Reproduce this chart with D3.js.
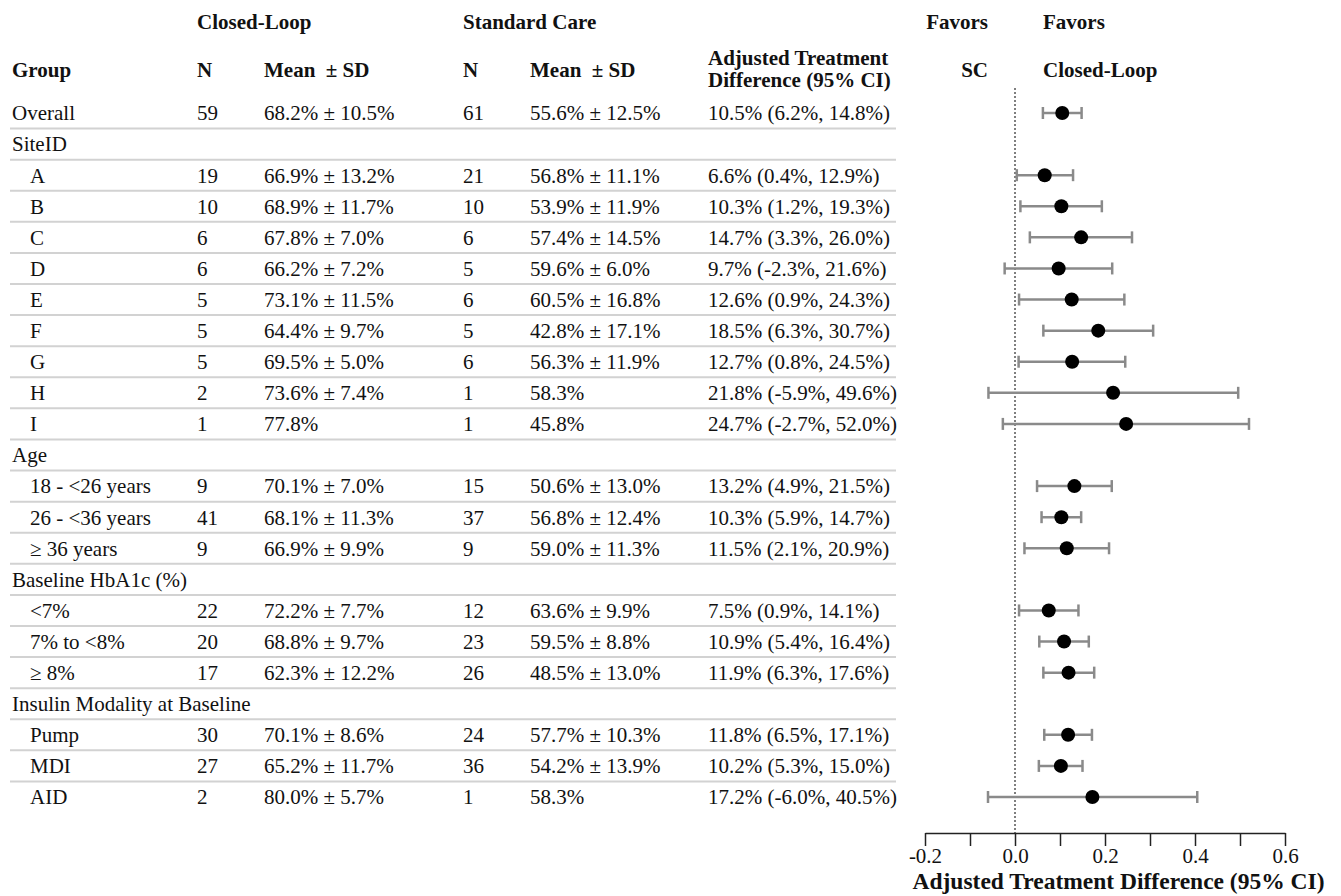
<!DOCTYPE html>
<html>
<head>
<meta charset="utf-8">
<script src="https://cdn.jsdelivr.net/npm/d3@7"></script>
<style>
  body { margin: 0; background: #fff; }
  svg text { font-family: "Liberation Serif", "Times New Roman", serif; fill: #111; white-space: pre; }
  .hdr { font-weight: bold; }
</style>
</head>
<body>
<div id="chart"></div>
<script>
// rows of the table, top to bottom
var groups = ["Overall", "SiteID", "A", "B", "C", "D", "E", "F", "G", "H", "I",
  "Age", "18 - <26 years", "26 - <36 years", "\u2265 36 years",
  "Baseline HbA1c (%)", "<7%", "7% to <8%", "\u2265 8%",
  "Insulin Modality at Baseline", "Pump", "MDI", "AID"];
var indent = [0, 0, 1, 1, 1, 1, 1, 1, 1, 1, 1, 0, 1, 1, 1, 0, 1, 1, 1, 0, 1, 1, 1];

var clN = ["59", "", "19", "10", "6", "6", "5", "5", "5", "2", "1", "", "9", "41", "9", "", "22", "20", "17", "", "30", "27", "2"];
var clMean = ["68.2% \u00b1 10.5%", "", "66.9% \u00b1 13.2%", "68.9% \u00b1 11.7%", "67.8% \u00b1 7.0%",
  "66.2% \u00b1 7.2%", "73.1% \u00b1 11.5%", "64.4% \u00b1 9.7%", "69.5% \u00b1 5.0%", "73.6% \u00b1 7.4%",
  "77.8%", "", "70.1% \u00b1 7.0%", "68.1% \u00b1 11.3%", "66.9% \u00b1 9.9%", "",
  "72.2% \u00b1 7.7%", "68.8% \u00b1 9.7%", "62.3% \u00b1 12.2%", "",
  "70.1% \u00b1 8.6%", "65.2% \u00b1 11.7%", "80.0% \u00b1 5.7%"];
var scN = ["61", "", "21", "10", "6", "5", "6", "5", "6", "1", "1", "", "15", "37", "9", "", "12", "23", "26", "", "24", "36", "1"];
var scMean = ["55.6% \u00b1 12.5%", "", "56.8% \u00b1 11.1%", "53.9% \u00b1 11.9%", "57.4% \u00b1 14.5%",
  "59.6% \u00b1 6.0%", "60.5% \u00b1 16.8%", "42.8% \u00b1 17.1%", "56.3% \u00b1 11.9%", "58.3%",
  "45.8%", "", "50.6% \u00b1 13.0%", "56.8% \u00b1 12.4%", "59.0% \u00b1 11.3%", "",
  "63.6% \u00b1 9.9%", "59.5% \u00b1 8.8%", "48.5% \u00b1 13.0%", "",
  "57.7% \u00b1 10.3%", "54.2% \u00b1 13.9%", "58.3%"];

// adjusted treatment difference, in %
var est = [10.5, null, 6.6, 10.3, 14.7, 9.7, 12.6, 18.5, 12.7, 21.8, 24.7, null, 13.2, 10.3, 11.5, null, 7.5, 10.9, 11.9, null, 11.8, 10.2, 17.2];
var lo  = [6.2, null, 0.4, 1.2, 3.3, -2.3, 0.9, 6.3, 0.8, -5.9, -2.7, null, 4.9, 5.9, 2.1, null, 0.9, 5.4, 6.3, null, 6.5, 5.3, -6.0];
var hi  = [14.8, null, 12.9, 19.3, 26.0, 21.6, 24.3, 30.7, 24.5, 49.6, 52.0, null, 21.5, 14.7, 20.9, null, 14.1, 16.4, 17.6, null, 17.1, 15.0, 40.5];

var axisTicks = [-0.2, -0.1, 0.0, 0.1, 0.2, 0.3, 0.4, 0.5, 0.6];

var W = 1341, H = 896;
var svg = d3.select("#chart").append("svg")
    .attr("width", W)
    .attr("height", H);

var rows = d3.range(groups.length);
var y = d3.scalePoint().domain(rows).range([113, 797]);
var x = d3.scaleLinear().domain([-0.2, 0.6]).range([925, 1285]);
var loc = d3.formatLocale({ decimal: ".", thousands: ",", grouping: [3], currency: ["", ""], minus: "-" });
var pct = loc.format(".1f");

var colX = { group: 12, sub: 30, clN: 197, clMean: 264, scN: 463, scMean: 530, diff: 708 };
var fs = 21;

// column headers
var hdr = [
  ["Closed-Loop", colX.clN, 29, "start"],
  ["Standard Care", colX.scN, 29, "start"],
  ["Group", colX.group, 77, "start"],
  ["N", colX.clN, 77, "start"],
  ["Mean  \u00b1 SD", colX.clMean, 77, "start"],
  ["N", colX.scN, 77, "start"],
  ["Mean  \u00b1 SD", colX.scMean, 77, "start"],
  ["Adjusted Treatment", colX.diff, 65, "start"],
  ["Difference (95% CI)", colX.diff, 87, "start"],
  ["Favors", 988, 29, "end"],
  ["SC", 988, 77, "end"],
  ["Favors", 1043, 29, "start"],
  ["Closed-Loop", 1043, 77, "start"]
];
svg.selectAll("text.hdr").data(hdr).enter().append("text")
    .attr("class", "hdr")
    .attr("x", function(d) { return d[1]; })
    .attr("y", function(d) { return d[2]; })
    .attr("text-anchor", function(d) { return d[3]; })
    .style("font-size", fs + "px")
    .text(function(d) { return d[0]; });

// separators under each row except the last
var step = y.step();
svg.append("g").selectAll("line")
    .data(rows.slice(0, -1))
    .enter().append("line")
    .attr("x1", 10).attr("x2", 896)
    .attr("y1", function(i) { return y(i) + step / 2; })
    .attr("y2", function(i) { return y(i) + step / 2; })
    .attr("stroke", "#d2d2d2")
    .attr("stroke-width", 2);

// table body
var body = svg.append("g").style("font-size", fs + "px");
function col(vals, xpos) {
  body.append("g").selectAll("text")
    .data(rows)
    .enter().append("text")
    .attr("x", typeof xpos === "function" ? xpos : function() { return xpos; })
    .attr("y", function(i) { return y(i); })
    .attr("dy", "0.35em")
    .text(function(i) { return vals[i]; });
}
col(groups, function(i) { return indent[i] ? colX.sub : colX.group; });
col(clN, colX.clN);
col(clMean, colX.clMean);
col(scN, colX.scN);
col(scMean, colX.scMean);
var diffText = rows.map(function(i) {
  if (est[i] === null) return "";
  return pct(est[i]) + "% (" + pct(lo[i]) + "%, " + pct(hi[i]) + "%)";
});
col(diffText, colX.diff);

// forest plot
var plot = svg.append("g");
var axisY = 833;

plot.append("line")
    .attr("x1", x(0)).attr("x2", x(0))
    .attr("y1", 88).attr("y2", axisY)
    .attr("stroke", "#555")
    .attr("stroke-width", 1.5)
    .attr("stroke-dasharray", "2,2");

var pts = rows.filter(function(i) { return est[i] !== null; });
var bars = plot.selectAll("g.ci").data(pts).enter().append("g").attr("class", "ci");
bars.append("line")
    .attr("x1", function(i) { return x(lo[i] / 100); })
    .attr("x2", function(i) { return x(hi[i] / 100); })
    .attr("y1", function(i) { return y(i); })
    .attr("y2", function(i) { return y(i); })
    .attr("stroke", "#8a8a8a").attr("stroke-width", 2.5);
[lo, hi].forEach(function(arr) {
  bars.append("line")
      .attr("x1", function(i) { return x(arr[i] / 100); })
      .attr("x2", function(i) { return x(arr[i] / 100); })
      .attr("y1", function(i) { return y(i) - 6; })
      .attr("y2", function(i) { return y(i) + 6; })
      .attr("stroke", "#8a8a8a").attr("stroke-width", 2.5);
});
bars.append("circle")
    .attr("cx", function(i) { return x(est[i] / 100); })
    .attr("cy", function(i) { return y(i); })
    .attr("r", 7)
    .attr("fill", "#000");

var ax = plot.append("g")
    .attr("transform", "translate(0," + axisY + ")")
    .call(d3.axisBottom(x)
      .tickValues(axisTicks)
      .tickSize(13)
      .tickSizeOuter(0)
      .tickPadding(2)
      .tickFormat(function(d, i) { return i % 2 ? "" : loc.format(".1f")(d); }));
ax.selectAll("text")
    .style("font-family", "Liberation Serif, serif")
    .style("font-size", "21px")
    .attr("fill", "#111");
ax.selectAll("line, path").attr("stroke", "#222").attr("stroke-width", 1.5);

plot.append("text")
    .attr("class", "hdr")
    .attr("x", x(0.23))
    .attr("y", 889)
    .attr("text-anchor", "middle")
    .style("font-size", "23.5px")
    .text("Adjusted Treatment Difference (95% CI)");
</script>
</body>
</html>
